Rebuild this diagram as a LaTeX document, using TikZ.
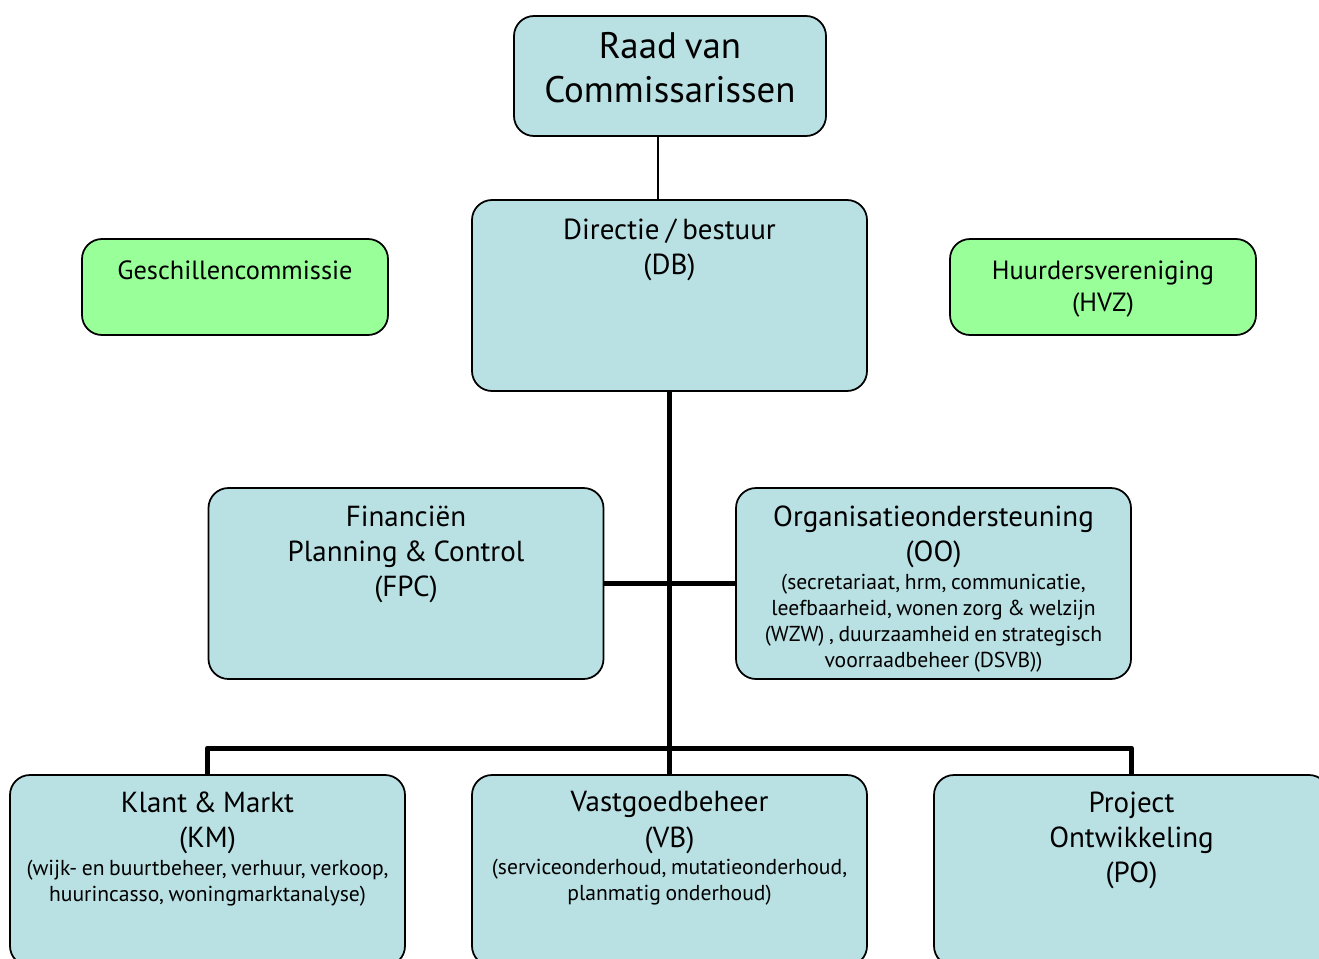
\documentclass[tikz,border=0pt]{standalone}
\usepackage{fontspec}
\setmainfont{PT Sans}[WordSpace=0.8]
\usetikzlibrary{positioning}

\definecolor{unitblue}{HTML}{B9E0E3}
\definecolor{sidegreen}{HTML}{99FF99}

\begin{document}
\begin{tikzpicture}[line join=round,
        unit/.style={draw=black, line width=1pt, rounded corners=0.4cm, fill=unitblue,
            minimum width=7.9cm, minimum height=3.82cm},
        side unit/.style={unit, fill=sidegreen, minimum width=6.12cm, minimum height=1.92cm},
        txt/.style={inner sep=0pt, outer sep=0pt, align=center},
        big/.style={txt, font=\fontsize{21}{25}\selectfont},
        mid/.style={txt, font=\fontsize{16.5}{20}\selectfont},
        small/.style={txt, font=\fontsize{12.3}{14.8}\selectfont},
        side txt/.style={txt, font=\fontsize{15}{18.2}\selectfont},
        thin line/.style={line width=0.85pt},
        bus line/.style={line width=0.1cm}]

    \clip (0,0) rectangle (26.38,-19.16);
    \useasboundingbox (0,0) rectangle (26.38,-19.16);

    % boxes
    \node[unit, minimum width=6.24cm, minimum height=2.4cm] (rvc) at (13.4,-1.52) {};
    \node[unit] (db) at (13.39,-5.91) {};
    \node[side unit] (gc) at (4.7,-5.74) {};
    \node[side unit] (hvz) at (22.06,-5.74) {};
    \node[unit] (fpc) at (8.12,-11.67) {};
    \node[unit] (oo) at (18.67,-11.67) {};
    \node[unit] (km) at (4.15,-17.41) {};
    \node[unit] (vb) at (13.39,-17.41) {};
    \node[unit] (po) at (22.63,-17.41) {};

    \coordinate (bus) at (13.39,-14.96);

    % connectors
    \draw[thin line] (rvc.south -| 13.16,0) -- (db.north -| 13.16,0);
    \draw[bus line] (db.south) -- (vb.north);
    \draw[bus line] (fpc.east) -- (oo.west);
    \draw[bus line] (km.north) |- (bus) -| (po.north);

    % texts
    \node[big, below=0.34cm of rvc.north] (rvc-txt) {Raad van\\Commissarissen};
    \node[mid, below=0.39cm of db.north] (db-txt) {Directie / bestuur\\(DB)};
    \node[side txt, below=0.46cm of gc.north] (gc-txt) {Geschillencommissie};
    \node[side txt, below=0.46cm of hvz.north] (hvz-txt) {Huurdersvereniging\\(HVZ)};
    \node[mid, below=0.37cm of fpc.north] (fpc-txt) {Financiën\\Planning \& Control\\(FPC)};
    \node[mid, below=0.37cm of oo.north] (oo-txt) {Organisatieondersteuning\\(OO)};
    \node[small, below=0.12cm of oo-txt] (oo-sub) {(secretariaat, hrm, communicatie,\\leefbaarheid, wonen zorg \& welzijn\\(WZW) , duurzaamheid en strategisch\\voorraadbeheer (DSVB))};
    \node[mid, below=0.35cm of km.north] (km-txt) {Klant \& Markt\\(KM)};
    \node[small, below=0.12cm of km-txt] (km-sub) {(wijk- en buurtbeheer, verhuur, verkoop,\\huurincasso, woningmarktanalyse)};
    \node[mid, below=0.35cm of vb.north] (vb-txt) {Vastgoedbeheer\\(VB)};
    \node[small, below=0.12cm of vb-txt] (vb-sub) {(serviceonderhoud, mutatieonderhoud,\\planmatig onderhoud)};
    \node[mid, below=0.35cm of po.north] (po-txt) {Project\\Ontwikkeling\\(PO)};

\end{tikzpicture}
\end{document}
